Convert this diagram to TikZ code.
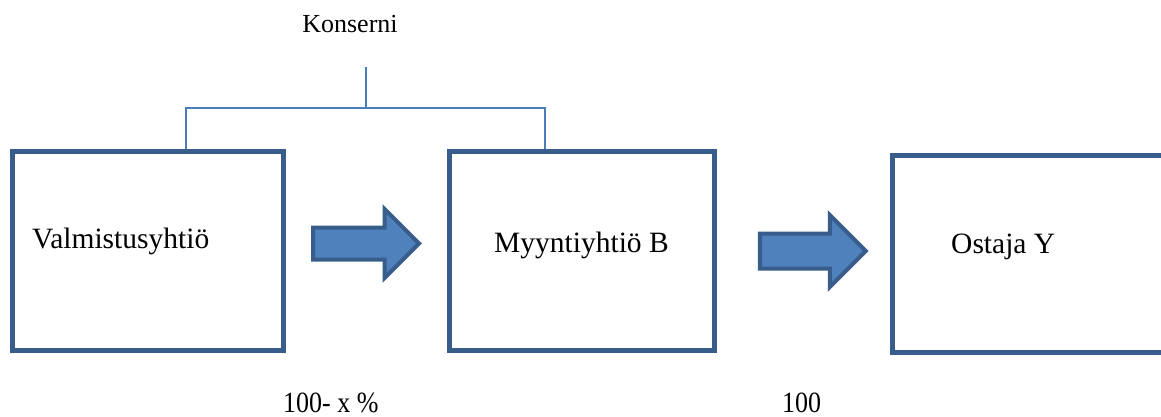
\documentclass[tikz,border=0pt]{standalone}
\usepackage{fontspec}
\setmainfont{Liberation Serif}
\usetikzlibrary{shapes.arrows}
\definecolor{boxblue}{HTML}{385D8A}
\definecolor{arrowblue}{HTML}{4F81BD}
\definecolor{treeblue}{HTML}{4A7EBB}
\newcommand{\venyta}[1]{\scalebox{1}[1.13]{#1}}
\begin{document}
\begin{tikzpicture}[x=1pt,y=-1pt,
    yhtio/.style={draw=boxblue,line width=5pt,minimum height=199pt,inner sep=0pt},
    nimi/.style={anchor=base west,inner sep=0pt,font=\fontsize{29.5}{34}\selectfont},
    luku/.style={anchor=base west,inner sep=0pt,font=\fontsize{26}{30}\selectfont},
    nuoli/.style={single arrow,draw=boxblue,fill=arrowblue,line width=4pt,
      inner xsep=0pt,single arrow head extend=18.5pt,single arrow tip angle=90,
      minimum height=106pt},
    tree/.style={draw=treeblue,line width=2pt}]
  \useasboundingbox (0,0) rectangle (1161,417);
  % konserni on top
  \node[anchor=base,font=\fontsize{26}{30}\selectfont] (konserni) at (350,33) {Konserni};
  \coordinate (konserni-tap) at (366,67);
  % boxes
  \node[yhtio,minimum width=271pt] (valm) at (147.5,250.5) {};
  \node[yhtio,minimum width=265pt] (myynti) at (582,251) {};
  \node[yhtio,minimum width=271pt,minimum height=197pt] (ostaja) at (1028,254) {};
  % names in the boxes
  \node[nimi] (valm-t) at (32,248) {Valmistusyhtiö};
  \node[nimi] (myynti-t) at (494,252) {Myyntiyhtiö B};
  \node[nimi] (ostaja-t) at (951,253) {Ostaja Y};
  % ownership lines
  \draw[tree] (konserni-tap) -- ++(0,41);
  \draw[tree] ([xshift=38.5pt]valm.north) -- ++(0,-40) -| ([xshift=-37pt]myynti.north);
  % block arrows
  \node[nuoli,inner ysep=14pt] (nuoli1) at (358,243.5) {};
  \node[nuoli,inner ysep=15.5pt] (nuoli2) at (804,251) {};
  % shares below
  \node[luku] (osuus1) at (283,412) {\venyta{100- x \%}};
  \node[luku] (osuus2) at (782,412) {\venyta{100}};
\end{tikzpicture}
\end{document}
